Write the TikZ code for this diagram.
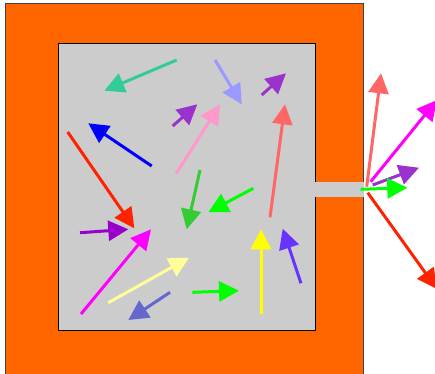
\documentclass[tikz,border=0pt]{standalone}
\usetikzlibrary{arrows.meta}
\definecolor{boxorange}{HTML}{FF6600}
\definecolor{chamber}{HTML}{CCCCCC}
\definecolor{cTeal}{HTML}{33CC99}
\definecolor{cPeri}{HTML}{9999FF}
\definecolor{cPurple}{HTML}{9933CC}
\definecolor{cPink}{HTML}{FF99CC}
\definecolor{cSalmon}{HTML}{FF6666}
\definecolor{cBlue}{HTML}{0000FF}
\definecolor{cRed}{HTML}{FF2200}
\definecolor{cGreen}{HTML}{33CC33}
\definecolor{cLime}{HTML}{00FF00}
\definecolor{cViolet}{HTML}{9900CC}
\definecolor{cMagenta}{HTML}{FF00FF}
\definecolor{cCream}{HTML}{FFFF99}
\definecolor{cSlate}{HTML}{6666CC}
\definecolor{cYellow}{HTML}{FFFF00}
\definecolor{cIndigo}{HTML}{6633FF}
\tikzset{
  wall/.style={fill=boxorange, draw=black!75, line width=1pt},
  cavity/.style={fill=chamber, draw=black, line width=1pt},
  molecule/.style={line width=3pt, -{Triangle[length=20pt,width=20pt]}},
}
\begin{document}
\begin{tikzpicture}[x=1pt,y=-1pt]
\useasboundingbox (0,0) rectangle (435,373);
\clip (0,0) rectangle (435,373);
% box wall and inner chamber
\draw[wall] (5.5,3) rectangle (363.5,390);
\draw[cavity] (58.5,43) rectangle (315,330);
% escape hole through the wall
\fill[chamber] (314.5,182) rectangle (364,196.5);
% molecules inside the chamber
\draw[molecule, cTeal]    (176.7,60)   -- (104.3,90.7);
\draw[molecule, cPeri]    (215,60)     -- (241.7,104.3);
\draw[molecule, cPurple]  (261.7,95)   -- (286,73.3);
\draw[molecule, cPurple]  (172.7,126)  -- (197.3,104.3);
\draw[molecule, cPink]    (176,174)    -- (220,104.3);
\draw[molecule, cSalmon]  (270,217.3)  -- (285,104.3);
\draw[molecule, cBlue]    (151.7,166)  -- (88.3,123.3);
\draw[molecule, cRed]     (67.7,132)   -- (134.3,228.3);
\draw[molecule, cGreen]   (200,170)    -- (186.7,229.3);
\draw[molecule, cLime]    (253.3,188.3)-- (208.3,212.3);
\draw[molecule, cViolet]  (80,232.7)   -- (128.3,229.3);
\draw[molecule, cMagenta] (81,314)     -- (151,229.3);
\draw[molecule, cCream]   (108.3,302.7)-- (189,257.7);
\draw[molecule, cSlate]   (170,292.3)  -- (128.3,320);
\draw[molecule, cLime]    (192.3,292.3)-- (239,290.7);
\draw[molecule, cYellow]  (261,314.3)  -- (261,229.3);
\draw[molecule, cIndigo]  (301,283.3)  -- (282.7,228.7);
% molecules leaving through the hole
\draw[molecule, cSalmon]  (366.7,186.7)-- (381,73.3);
\draw[molecule, cMagenta] (370.7,181.7)-- (437,100);
\draw[molecule, cPurple]  (372.7,185)  -- (419,167.7);
\draw[molecule, cLime]    (360.7,189.3)-- (407.3,187.7);
\draw[molecule, cRed]     (367.7,192.7)-- (437,289);
\end{tikzpicture}
\end{document}
